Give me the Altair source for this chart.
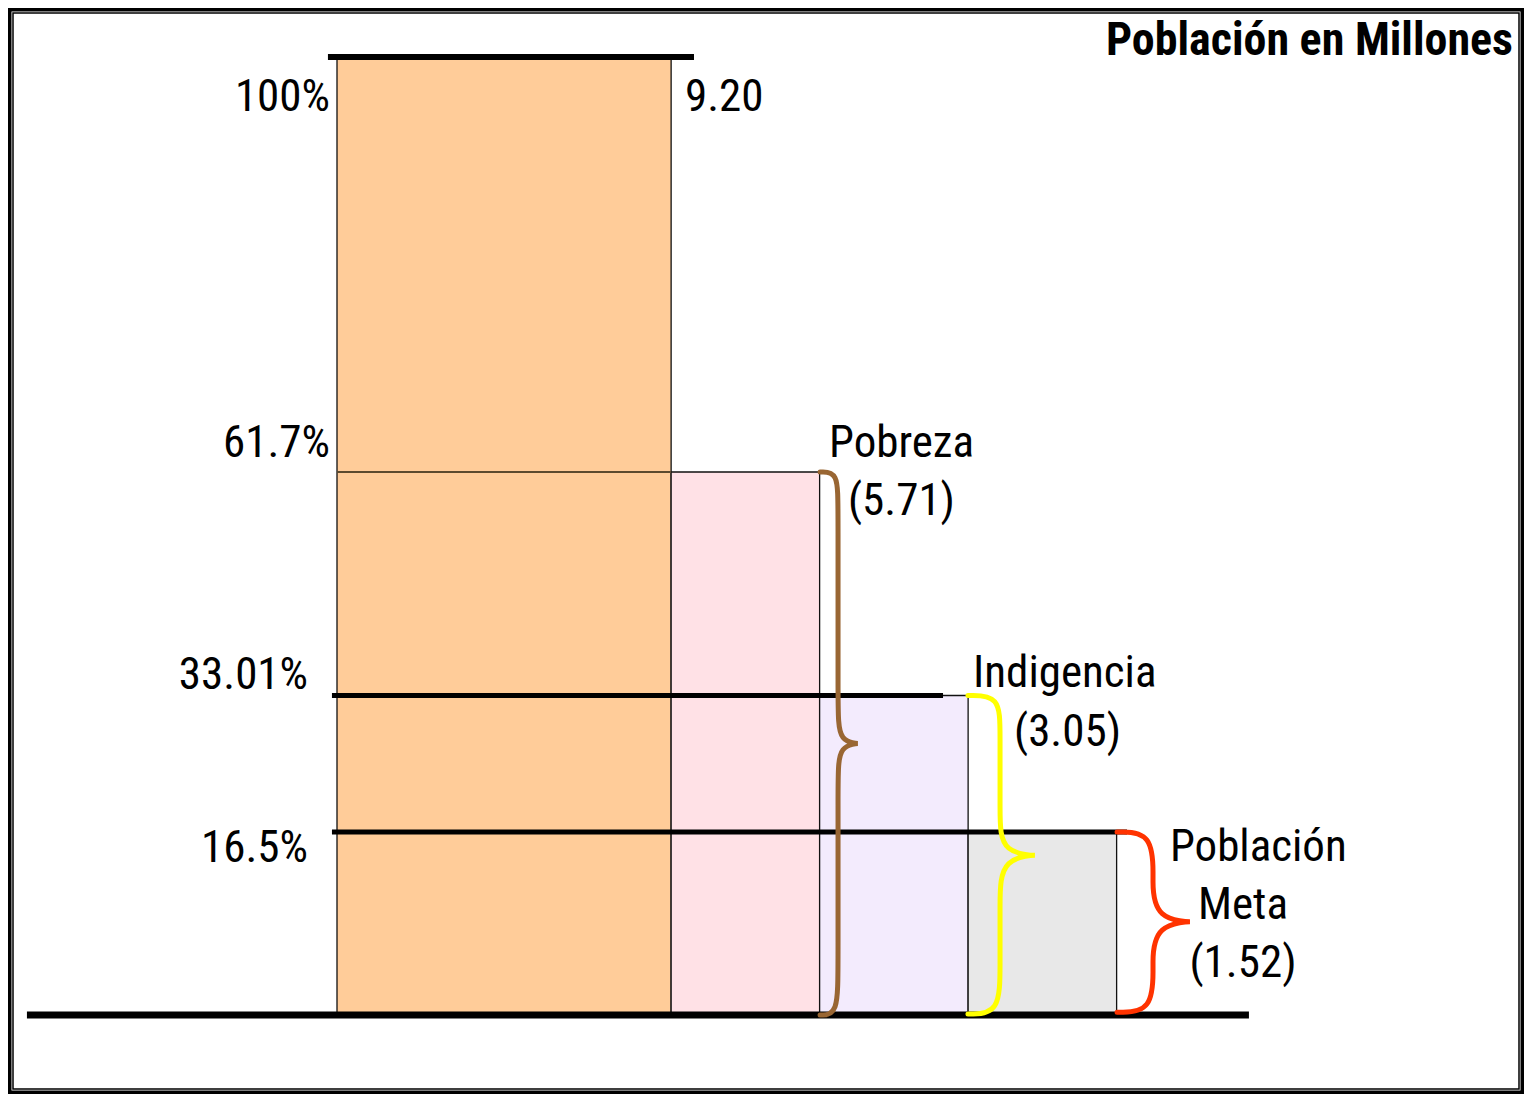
import altair as alt
import pandas as pd

W, H = 1516, 1086
FONT = "Roboto Condensed, Liberation Sans Narrow, DejaVu Sans Condensed, sans-serif"

# ---- data -------------------------------------------------------------
categorias = ["Total", "Pobreza", "Indigencia", "Población Meta"]
porcentajes = [100, 61.7, 33.01, 16.5]
millones = [9.20, 5.71, 3.05, 1.52]
col_inicio = [0, 2.25, 3.25, 4.25]
col_fin = [2.25, 3.25, 4.25, 5.25]
colores = ["#FFCC99", "#FFE1E6", "#F3EBFD", "#E8E8E8"]

# reference lines (levels in %)
lin_nivel = [100, 61.7, 33.01, 16.5, 0]
lin_desde = [-0.061, 0, -0.034, -0.034, -2.088]
lin_hasta = [2.404, 2.25, 4.081, 5.32, 6.141]
lin_grosor = [6, 2, 5, 5, 7]
lin_color = ["#000000", "#5C4A2E", "#000000", "#000000", "#000000"]

# braces: name, start x, vertical x, tip x, top %, mid %, bottom %, colour
llaves = [
    ("Pobreza", 3.253, 3.374, 3.508, 61.7, 27.2, 0.0, "#996633"),
    ("Indigencia", 4.249, 4.465, 4.700, 33.01, 14.4, 0.1, "#FFFF00"),
    ("Meta", 5.253, 5.495, 5.744, 16.5, 8.4, 0.25, "#FF3300"),
]

# text labels
izq_txt = ["100%", "61.7%", "33.01%", "16.5%"]
izq_x = [-0.047, -0.047, -0.195, -0.195]
izq_y = [96.3, 64.4, 35.65, 15.06]

der_txt = ["9.20", "Pobreza", "(5.71)", "Indigencia", "(3.05)", "Población"]
der_x = [2.343, 3.313, 3.441, 4.283, 4.559, 5.609]
der_y = [96.3, 64.4, 58.0, 35.9, 28.55, 15.15]

cen_txt = ["Meta", "(1.52)"]
cen_x = [6.101, 6.101]
cen_y = [9.92, 4.69]

# ---- scales -----------------------------------------------------------
xs = alt.Scale(domain=[-2.2155, 7.9933], range=[0, W], zero=False, nice=False)
ys = alt.Scale(domain=[0, 16.5, 33.01, 61.7, 100],
               range=[1007, 824, 687.5, 464, 49], zero=False, nice=False)

bars_df = pd.DataFrame({"cat": categorias, "pct": porcentajes, "mill": millones,
                        "x0": col_inicio, "x1": col_fin, "base": [0] * 4})
bars = alt.Chart(bars_df).mark_rect(stroke="#111111", strokeWidth=1.3).encode(
    x=alt.X("x0:Q", scale=xs, axis=None),
    x2="x1:Q",
    y=alt.Y("pct:Q", scale=ys, axis=None),
    y2="base:Q",
    color=alt.Color("cat:N", scale=alt.Scale(domain=categorias, range=colores), legend=None),
)

lines_df = pd.DataFrame({"y": lin_nivel, "a": lin_desde, "b": lin_hasta,
                         "w": lin_grosor, "c": lin_color})
rules = alt.Chart(lines_df).mark_rule(strokeCap="butt").encode(
    x=alt.X("a:Q", scale=xs, axis=None),
    x2="b:Q",
    y=alt.Y("y:Q", scale=ys, axis=None),
    strokeWidth=alt.StrokeWidth("w:Q", scale=None),
    color=alt.Color("c:N", scale=None),
)

rows = []
for name, x0, xv, xt, top, mid, bot, col in llaves:
    xc = xv + 1.5 * (xt - xv)
    c = 4.5
    pts = [(x0, top), (xv, top), (xv, top - c), (xv, mid + c), (xv, mid),
           (xc, mid), (xv, mid), (xv, mid - c), (xv, bot + c), (xv, bot), (x0, bot)]
    for i, (px, py) in enumerate(pts):
        rows.append({"llave": name, "ord": i, "x": px, "y": py, "c": col})
braces_df = pd.DataFrame(rows)
braces = alt.Chart(braces_df).mark_line(interpolate="basis", strokeWidth=5,
                                        strokeCap="round").encode(
    x=alt.X("x:Q", scale=xs, axis=None),
    y=alt.Y("y:Q", scale=ys, axis=None),
    detail="llave:N",
    order="ord:Q",
    color=alt.Color("c:N", scale=None),
)

def text_layer(txt, xv, yv, align):
    df = pd.DataFrame({"t": txt, "x": xv, "y": yv})
    return alt.Chart(df).mark_text(align=align, baseline="middle", font=FONT,
                                   fontSize=45, color="#000000").encode(
        x=alt.X("x:Q", scale=xs, axis=None),
        y=alt.Y("y:Q", scale=ys, axis=None),
        text="t:N",
    )

t_left = text_layer(izq_txt, izq_x, izq_y, "right")
t_right = text_layer(der_txt, der_x, der_y, "left")
t_cen = text_layer(cen_txt, cen_x, cen_y, "center")

titulo_df = pd.DataFrame({"t": ["Población en Millones"], "x": [7.919], "y": [101.5]})
titulo = alt.Chart(titulo_df).mark_text(align="right", baseline="middle", font=FONT,
                                        fontSize=46, fontWeight="bold",
                                        color="#000000").encode(
    x=alt.X("x:Q", scale=xs, axis=None),
    y=alt.Y("y:Q", scale=ys, axis=None),
    text="t:N",
)

frame = alt.Chart(pd.DataFrame({"k": [0]})).mark_rect(
    fillOpacity=0, stroke="#000000", strokeWidth=1.5).encode(
    x=alt.value(5), x2=alt.value(W - 5), y=alt.value(5), y2=alt.value(H - 5))

chart = alt.layer(frame, bars, rules, braces, t_left, t_right, t_cen, titulo).properties(
    width=W, height=H, autosize=alt.AutoSizeParams(type="none"), padding=0
).configure(background="white").configure_view(stroke="#000000", strokeWidth=7)

chart.save("out.html", embed_options={"renderer": "svg", "actions": False})
